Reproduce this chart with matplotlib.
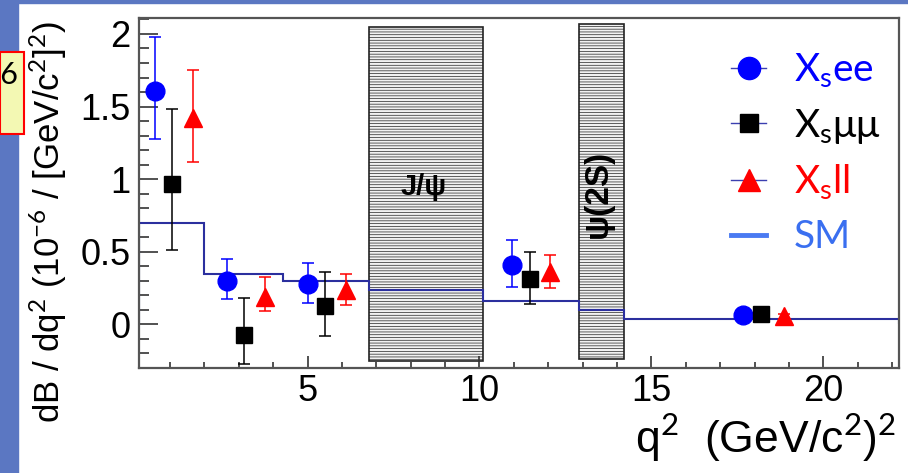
import numpy as np, matplotlib.pyplot as plt
from matplotlib.lines import Line2D
from matplotlib.patches import Rectangle
from matplotlib.ticker import MultipleLocator, FuncFormatter

plt.rcParams['font.family'] = ['Liberation Sans', 'DejaVu Sans']
plt.rcParams['mathtext.fontset'] = 'custom'
plt.rcParams['mathtext.rm'] = 'Liberation Sans'
plt.rcParams['mathtext.it'] = 'Liberation Sans'
plt.rcParams['hatch.linewidth'] = 0.5
plt.rcParams['hatch.color'] = '#555555'

# SM prediction (step histogram)
sm_edges = [0.1, 2.0, 4.3, 6.8, 10.1, 12.9, 14.2, 22.2]
sm_vals = [0.70, 0.35, 0.30, 0.24, 0.16, 0.10, 0.035]

# X_s ee
ee_x = [0.56, 2.65, 5.02, 10.96, 17.67]
ee_y = [1.61, 0.30, 0.275, 0.41, 0.068]
ee_lo = [1.28, 0.175, 0.15, 0.257, 0.05]
ee_hi = [1.98, 0.45, 0.42, 0.58, 0.085]

# X_s mumu
mm_x = [1.07, 3.15, 5.52, 11.48, 18.2]
mm_y = [0.97, -0.07, 0.13, 0.315, 0.07]
mm_lo = [0.51, -0.27, -0.08, 0.14, 0.055]
mm_hi = [1.48, 0.18, 0.36, 0.50, 0.085]

# X_s ll
ll_x = [1.66, 3.75, 6.12, 12.06, 18.85]
ll_y = [1.42, 0.19, 0.24, 0.36, 0.055]
ll_lo = [1.12, 0.09, 0.135, 0.25, 0.04]
ll_hi = [1.75, 0.33, 0.35, 0.48, 0.07]

# charmonium veto regions
veto_lo = [6.8, 12.9]
veto_hi = [10.1, 14.2]
veto_bot = [-0.25, -0.24]
veto_top = [2.05, 2.07]

fig = plt.figure(figsize=(9.08, 4.73), dpi=100)
# slide background bits
fig.patches.append(Rectangle((0, 0), 18/908, 1, transform=fig.transFigure, color='#5b77c2', zorder=0))
fig.patches.append(Rectangle((0, 1-3/473), 1, 3/473, transform=fig.transFigure, color='#5b77c2', zorder=0))
fig.patches.append(Rectangle((0, 1-134/473), 24/908, 82/473, transform=fig.transFigure,
                             facecolor='#f3f8b3', edgecolor='red', lw=1.5, zorder=1))
fig.text(18/908, 1-75/473, '-6', fontsize=22, ha='right', va='center', family='Lato', zorder=2)

ax = fig.add_axes([139/908, 105/473, 760/908, 350/473])
ax.set_xlim(0.1, 22.2)
ax.set_ylim(-0.30, 2.11)

for lo, hi, b, t in zip(veto_lo, veto_hi, veto_bot, veto_top):
    ax.add_patch(Rectangle((lo, b), hi-lo, t-b, facecolor='#f2f2f2', edgecolor='#222222',
                           lw=1.2, hatch='------', zorder=1))

ax.stairs(sm_vals, sm_edges, color='#2b2f9e', lw=1.5, zorder=2)

def pts(x, y, lo, hi, c, m, ms):
    y = np.array(y)
    err = [y - np.array(lo), np.array(hi) - y]
    ax.errorbar(x, y, yerr=err, fmt='none', ecolor=c, elinewidth=1.1, capsize=4, capthick=1.1, zorder=3)
    ax.plot(x, y, linestyle='none', marker=m, ms=ms, color=c, zorder=4)

pts(ee_x, ee_y, ee_lo, ee_hi, 'blue', 'o', 13.5)
pts(mm_x, mm_y, mm_lo, mm_hi, 'black', 's', 11.5)
pts(ll_x, ll_y, ll_lo, ll_hi, 'red', '^', 13)

ax.text(8.37, 0.945, 'J/ψ', fontsize=21, fontweight='bold', ha='center', va='center', zorder=5)
ax.text(13.45, 0.90, 'ψ(2S)', fontsize=24, fontweight='bold', rotation=90, ha='center', va='center', zorder=5)

# ROOT-like axes
for s in ax.spines.values():
    s.set_color('#555555')
    s.set_linewidth(1.6)
ax.xaxis.set_major_locator(MultipleLocator(5))
ax.xaxis.set_minor_locator(MultipleLocator(1))
ax.yaxis.set_major_locator(MultipleLocator(0.5))
ax.yaxis.set_minor_locator(MultipleLocator(0.1))
ax.yaxis.set_major_formatter(FuncFormatter(lambda v, p: f'{v:g}'))
ax.tick_params(axis='both', which='both', direction='in', color='#333333', width=1.2, labelsize=26)
ax.tick_params(axis='x', which='major', length=9, pad=4)
ax.tick_params(axis='x', which='minor', length=4.5)
ax.tick_params(axis='y', which='major', length=14, pad=6)
ax.tick_params(axis='y', which='minor', length=7)

fig.text(896/908, 1-438/473, r'q$^2$  (GeV/c$^2$)$^2$', fontsize=32, ha='right', va='center')
fig.text(48/908, 1-222/473, r'dB / dq$^2$ (10$^{-6}$ / [GeV/c$^2$]$^2$)', fontsize=25,
         rotation=90, ha='center', va='center')

lg_font = {'family': ['Lato', 'DejaVu Sans'], 'size': 28}
handles = [
    Line2D([], [], color='#3b3fb0', lw=1, marker='o', ms=16, mfc='blue', mec='blue'),
    Line2D([], [], color='#3b3fb0', lw=1, marker='s', ms=13, mfc='black', mec='black'),
    Line2D([], [], color='#3b3fb0', lw=1, marker='^', ms=16, mfc='red', mec='red'),
    Line2D([], [], color='#4a7af2', lw=3.5),
]
labels = [r'X$_\mathregular{s}$ee', r'X$_\mathregular{s}$μμ', r'X$_\mathregular{s}$ll', 'SM']
plt.rcParams['mathtext.rm'] = 'Lato'
leg = ax.legend(handles, labels, loc='upper left', bbox_to_anchor=(712/908, 1-32/473),
                bbox_transform=fig.transFigure, frameon=False, prop=lg_font,
                handlelength=0.88, handletextpad=0.72, labelspacing=0.44, borderpad=0)
for t, c in zip(leg.get_texts(), ['blue', 'black', 'red', '#3a6ff0']):
    t.set_color(c)

fig.savefig('out.png', dpi=100)
